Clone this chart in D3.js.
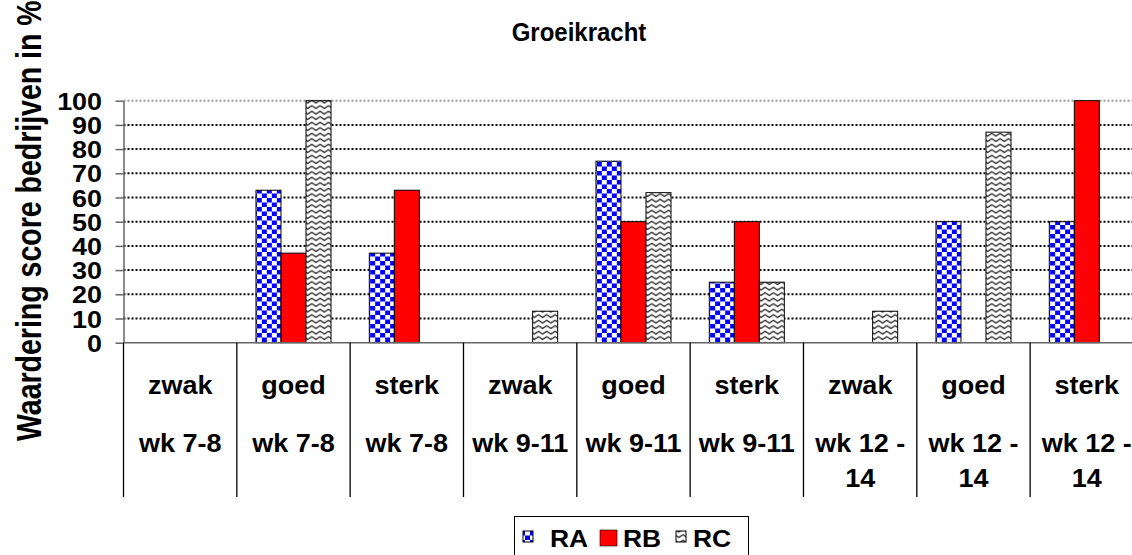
<!DOCTYPE html>
<html><head><meta charset="utf-8">
<script src="https://cdn.jsdelivr.net/npm/d3@7"></script>
<style>
html,body{margin:0;padding:0;background:#fff;overflow:hidden;}
svg{display:block;font-family:"Liberation Sans",Arial,sans-serif;font-weight:bold;}
</style></head>
<body>
<svg id="chart" width="1132" height="555"></svg>
<script>
const title = "Groeikracht";
const yTitle = "Waardering score bedrijven in %";
const levels = ["zwak","goed","sterk","zwak","goed","sterk","zwak","goed","sterk"];
const weeks = ["wk 7-8","wk 7-8","wk 7-8","wk 9-11","wk 9-11","wk 9-11","wk 12 - 14","wk 12 - 14","wk 12 - 14"];
const seriesNames = ["RA","RB","RC"];
const RA = [0,63,37,0,75,25,0,50,50];
const RB = [0,37,63,0,50,50,0,0,100];
const RC = [0,100,0,13,62,25,13,87,0];
const yTicks = [0,10,20,30,40,50,60,70,80,90,100];

const seriesVals = [RA,RB,RC];
const svg = d3.select("#chart");
const L = 123.5, T = 100.7, B = 342.7, groupW = 113.33;
const R = L + groupW*levels.length;

const defs = svg.append("defs");
const pa = defs.append("pattern").attr("id","pRA").attr("patternUnits","userSpaceOnUse")
  .attr("width",10).attr("height",9);
pa.append("rect").attr("width",10).attr("height",9).attr("fill","#fff");
pa.append("rect").attr("x",0).attr("y",0).attr("width",5).attr("height",4.5).attr("fill","#0000ff");
pa.append("rect").attr("x",5).attr("y",4.5).attr("width",5).attr("height",4.5).attr("fill","#0000ff");
const pc = defs.append("pattern").attr("id","pRC").attr("patternUnits","userSpaceOnUse")
  .attr("width",8.33).attr("height",5.5);
pc.append("rect").attr("width",8.33).attr("height",5.5).attr("fill","#fff");
pc.append("path").attr("d","M-4.17,4 L0,1.2 L4.17,4 L8.33,1.2 L12.5,4").attr("fill","none")
  .attr("stroke","#333").attr("stroke-width",1.4).attr("stroke-linejoin","round");
const fills = ["url(#pRA)","#ff0000","url(#pRC)"];

const x0 = d3.scaleBand().domain(d3.range(levels.length)).range([L,R]).padding(0);
const x1 = d3.scaleBand().domain(seriesNames).range([0,x0.bandwidth()]).paddingInner(0).paddingOuter(0.766);
const y = d3.scaleLinear().domain([0,100]).range([B,T]);

// title
svg.append("text").attr("transform","translate(579,41) scale(1.0,1.05)")
  .attr("text-anchor","middle").attr("font-size",24).text(title);

// y axis title
svg.append("text").attr("transform","translate(41,441) rotate(-90) scale(1.0,1.25)")
  .attr("font-size",28.5).attr("text-anchor","start").text(yTitle);

// gridlines
svg.append("g").selectAll("line").data(yTicks.filter(d=>d>0)).join("line")
  .attr("x1",L).attr("x2",R).attr("y1",d=>y(d)).attr("y2",d=>y(d))
  .attr("stroke",d=>d===100?"#999":"#000").attr("stroke-width",2)
  .attr("stroke-dasharray","2,2");

// y axis
const TS = 1.17;
const ya = svg.append("g").attr("transform",`translate(${L},0)`)
  .call(d3.axisLeft(y).tickValues(yTicks).tickSize(8).tickSizeOuter(0));
ya.select(".domain").attr("stroke","#666").attr("stroke-width",1.5);
ya.selectAll(".tick line").attr("stroke","#666").attr("stroke-width",1.5);
ya.selectAll(".tick text").attr("font-size",23).attr("font-family","Liberation Sans, Arial, sans-serif")
  .attr("font-weight","bold").attr("fill","#000").attr("x",-21.5/TS).attr("dy",null).attr("y",8.5)
  .attr("transform",`scale(${TS},1)`);

// bars
const groups = svg.append("g").selectAll("g").data(levels.map((d,i)=>i)).join("g")
  .attr("transform",i=>`translate(${x0(i)},0)`);
groups.selectAll("rect").data(i=>seriesNames.map((s,k)=>({s,k,v:seriesVals[k][i]})).filter(d=>d.v>0))
  .join("rect")
  .attr("x",d=>x1(d.s)).attr("width",x1.bandwidth())
  .attr("y",d=>y(d.v)).attr("height",d=>B-y(d.v))
  .attr("fill",d=>fills[d.k]).attr("stroke","#000").attr("stroke-width",1);

// x axis line
svg.append("line").attr("x1",L).attr("x2",R).attr("y1",B).attr("y2",B)
  .attr("stroke","#666").attr("stroke-width",1.5);
// dividers
svg.append("g").selectAll("line").data(d3.range(levels.length+1)).join("line")
  .attr("x1",i=>L+i*x0.step()).attr("x2",i=>L+i*x0.step()).attr("y1",B).attr("y2",497)
  .attr("stroke","#000").attr("stroke-width",1.3);

// category labels
const CS = 1.08, CF = 25;
const cat = svg.append("g");
levels.forEach((lv,i)=>{
  const cx = x0(i)+x0.bandwidth()/2;
  cat.append("text").attr("transform",`translate(${cx},394) scale(${CS},1)`)
    .attr("text-anchor","middle").attr("font-size",CF).text(lv);
  const words = weeks[i].split(" ");
  const lines = []; let cur = "";
  const tmp = cat.append("text").attr("font-size",CF);
  words.forEach(w=>{
    const test = cur ? cur+" "+w : w;
    tmp.text(test);
    if (tmp.node().getComputedTextLength()*CS > x0.bandwidth()-6 && cur) { lines.push(cur); cur = w; }
    else cur = test;
  });
  lines.push(cur); tmp.remove();
  const baselines = [452,487];
  lines.forEach((ln,j)=>{
    cat.append("text").attr("transform",`translate(${cx},${baselines[j]}) scale(${CS},1)`)
      .attr("text-anchor","middle").attr("font-size",CF).text(ln);
  });
});

// legend
const lg = svg.append("g");
lg.append("rect").attr("x",514.5).attr("y",516.5).attr("width",234).attr("height",45)
  .attr("fill","#fff").attr("stroke","#000").attr("stroke-width",1);
const icons = [{x:523,y:531,w:10,h:11},{x:600,y:530,w:17,h:16},{x:676,y:531,w:10,h:11}];
const labX = [550,623,693];
seriesNames.forEach((s,k)=>{
  lg.append("rect").attr("x",icons[k].x).attr("y",icons[k].y).attr("width",icons[k].w).attr("height",icons[k].h)
    .attr("fill",fills[k]).attr("stroke","#000").attr("stroke-width",k===1?0.6:1);
  lg.append("text").attr("transform",`translate(${labX[k]},547) scale(1.1,1)`)
    .attr("font-size",24).text(s);
});
</script>
</body></html>
